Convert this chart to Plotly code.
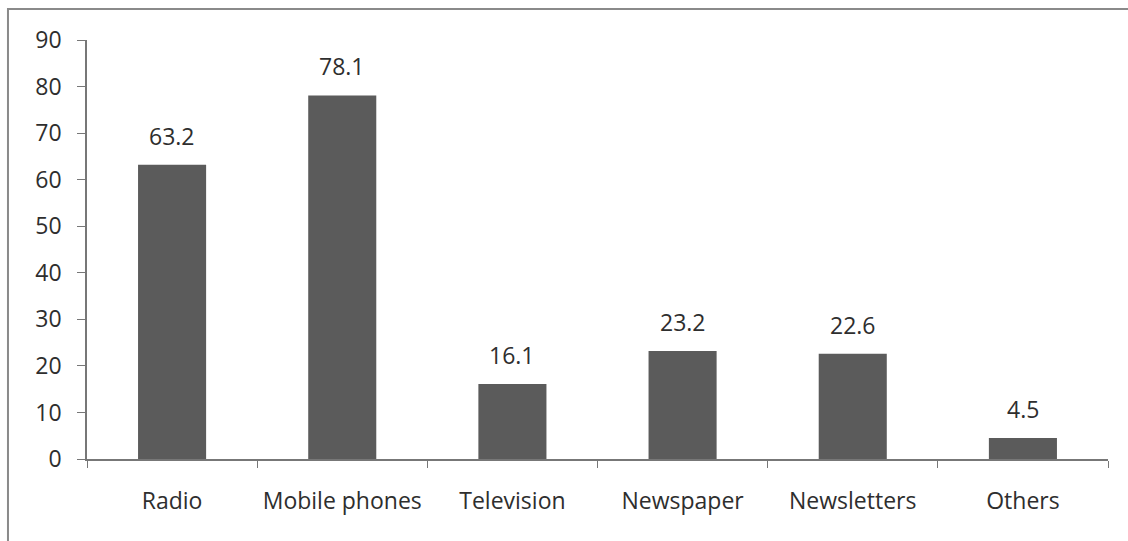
import plotly.graph_objects as go

categories = ["Radio", "Mobile phones", "Television", "Newspaper", "Newsletters", "Others"]
values = [63.2, 78.1, 16.1, 23.2, 22.6, 4.5]
y_ticks = [0, 10, 20, 30, 40, 50, 60, 70, 80, 90]

FONT = "Open Sans"
FS = 23
TXT = "#2e2e2e"
fig = go.Figure()
fig.add_trace(go.Bar(
    x=categories, y=values,
    marker=dict(color="#5b5b5b", line=dict(width=0)),
    width=0.4,
    showlegend=False,
))

for c, v in zip(categories, values):
    fig.add_annotation(x=c, y=v, text=f"{v:.1f}", showarrow=False,
                       yanchor="bottom", yshift=11,
                       font=dict(family=FONT, size=FS, color=TXT))

fig.update_layout(
    width=1128, height=541,
    margin=dict(l=87, r=20, t=40, b=82),
    paper_bgcolor="white", plot_bgcolor="white",
    font=dict(family=FONT, size=FS, color=TXT),
    bargap=0.6,
    shapes=[dict(type="rect", xref="paper", yref="paper",
                 x0=-0.0774, x1=1.03, y0=-0.25, y1=1.074,
                 line=dict(color="#8a8a8a", width=2), fillcolor="rgba(0,0,0,0)",
                 layer="below")],
)
fig.update_xaxes(
    showline=True, linecolor="#777777", linewidth=1.5,
    ticks="outside", tickson="boundaries", ticklen=7, tickcolor="#777777",
    ticklabelstandoff=21, showgrid=False,
    tickfont=dict(family=FONT, size=FS, color=TXT),
)
fig.update_yaxes(
    range=[0, 90], tickvals=y_ticks, showline=True, linecolor="#777777", linewidth=1.5,
    ticks="outside", ticklen=8, tickcolor="#777777", showgrid=False, zeroline=False,
    ticklabelstandoff=11,
    tickfont=dict(family=FONT, size=FS, color=TXT),
)
fig.write_html("out.html")
